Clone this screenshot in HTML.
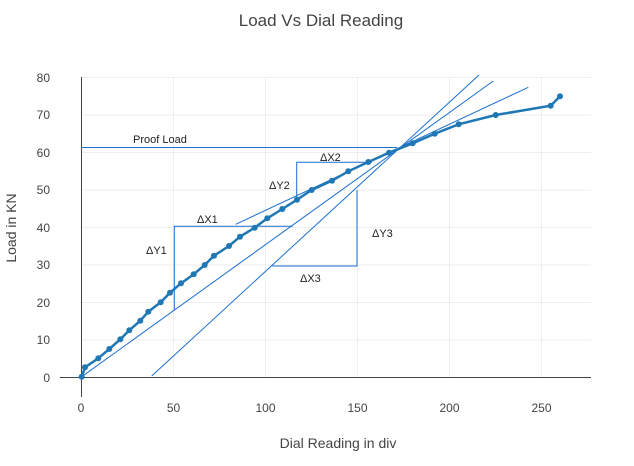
<!DOCTYPE html>
<html><head><meta charset="utf-8"><style>body{margin:0;background:#fff}svg{display:block;font-family:"Liberation Sans","DejaVu Sans",sans-serif}</style></head>
<body>
<svg width="634" height="466" viewBox="0 0 634 466">
<text x="321" y="26" text-anchor="middle" font-size="17" fill="#444">Load Vs Dial Reading</text>
<g stroke="#eee" stroke-width="1">
<line x1="173.5" y1="77" x2="173.5" y2="377"/><line x1="265.5" y1="77" x2="265.5" y2="377"/><line x1="357.5" y1="77" x2="357.5" y2="377"/><line x1="449.5" y1="77" x2="449.5" y2="377"/><line x1="541.5" y1="77" x2="541.5" y2="377"/>
<line x1="81" y1="77.5" x2="591" y2="77.5"/><line x1="81" y1="115" x2="591" y2="115"/><line x1="81" y1="152.5" x2="591" y2="152.5"/><line x1="81" y1="190" x2="591" y2="190"/><line x1="81" y1="227.5" x2="591" y2="227.5"/><line x1="81" y1="265" x2="591" y2="265"/><line x1="81" y1="302.5" x2="591" y2="302.5"/><line x1="81" y1="340" x2="591" y2="340"/>
</g>
<line x1="81.5" y1="77" x2="81.5" y2="397" stroke="#444"/>
<line x1="60" y1="377.5" x2="591" y2="377.5" stroke="#444"/>
<g font-size="12" fill="#444" text-anchor="end">
<text x="50" y="82">80</text><text x="50" y="119">70</text><text x="50" y="157">60</text><text x="50" y="194">50</text><text x="50" y="232">40</text><text x="50" y="269">30</text><text x="50" y="307">20</text><text x="50" y="344">10</text><text x="50" y="382">0</text>
</g>
<g font-size="12" fill="#444" text-anchor="middle">
<text x="81" y="412">0</text><text x="173.5" y="412">50</text><text x="265.5" y="412">100</text><text x="357.5" y="412">150</text><text x="449.5" y="412">200</text><text x="541.5" y="412">250</text>
</g>
<text x="338" y="448" text-anchor="middle" font-size="14" fill="#444">Dial Reading in div</text>
<text transform="translate(16,228) rotate(-90)" text-anchor="middle" font-size="14" fill="#444">Load in KN</text>
<g stroke="#1a6fd0" stroke-width="1" fill="none">
<line x1="81" y1="147.5" x2="397" y2="147.5"/>
<polyline points="174.3,310 174.3,226.3 292.7,226.3"/>
<line x1="81.7" y1="376.7" x2="493.3" y2="81"/>
<line x1="235.7" y1="224.3" x2="528.3" y2="87.3"/>
<polyline points="296.7,198.3 296.7,162.3 372,162.3"/>
<line x1="151.7" y1="376" x2="479" y2="75"/>
<polyline points="357,190 357,266 272.3,266"/>
</g>
<g font-size="11" fill="#222">
<text x="133" y="143">Proof Load</text>
<text x="197" y="223">ΔX1</text><text x="146" y="254">ΔY1</text><text x="269" y="189">ΔY2</text><text x="320" y="161">ΔX2</text><text x="372" y="237">ΔY3</text><text x="300" y="282">ΔX3</text>
</g>
<g fill="#1f77b4">
<polyline fill="none" stroke="#1f77b4" stroke-width="2.5" points="81.7,376.7 85,367.3 98.3,358.3 109.3,349 120.3,339.3 129.3,330.3 140.3,320.7 148.3,311.7 160.7,302.3 170,292.7 181,283.3 193.7,274.3 204.7,265 214,255.7 229,246 240,236.7 254.7,227.7 267.3,218.3 282.3,209 297,199.7 311.7,190 332,180.7 348.3,171.3 368.3,162 389,152.7 412.7,143.3 434.7,133.7 458.7,124.3 495.7,115 550.7,105.7 560,96.3"/>
<circle cx="81.7" cy="376.7" r="3"/><circle cx="85" cy="367.3" r="3"/><circle cx="98.3" cy="358.3" r="3"/><circle cx="109.3" cy="349" r="3"/><circle cx="120.3" cy="339.3" r="3"/><circle cx="129.3" cy="330.3" r="3"/><circle cx="140.3" cy="320.7" r="3"/><circle cx="148.3" cy="311.7" r="3"/><circle cx="160.7" cy="302.3" r="3"/><circle cx="170" cy="292.7" r="3"/><circle cx="181" cy="283.3" r="3"/><circle cx="193.7" cy="274.3" r="3"/><circle cx="204.7" cy="265" r="3"/><circle cx="214" cy="255.7" r="3"/><circle cx="229" cy="246" r="3"/><circle cx="240" cy="236.7" r="3"/><circle cx="254.7" cy="227.7" r="3"/><circle cx="267.3" cy="218.3" r="3"/><circle cx="282.3" cy="209" r="3"/><circle cx="297" cy="199.7" r="3"/><circle cx="311.7" cy="190" r="3"/><circle cx="332" cy="180.7" r="3"/><circle cx="348.3" cy="171.3" r="3"/><circle cx="368.3" cy="162" r="3"/><circle cx="389" cy="152.7" r="3"/><circle cx="412.7" cy="143.3" r="3"/><circle cx="434.7" cy="133.7" r="3"/><circle cx="458.7" cy="124.3" r="3"/><circle cx="495.7" cy="115" r="3"/><circle cx="550.7" cy="105.7" r="3"/><circle cx="560" cy="96.3" r="3"/>
</g>
</svg>
</body></html>
